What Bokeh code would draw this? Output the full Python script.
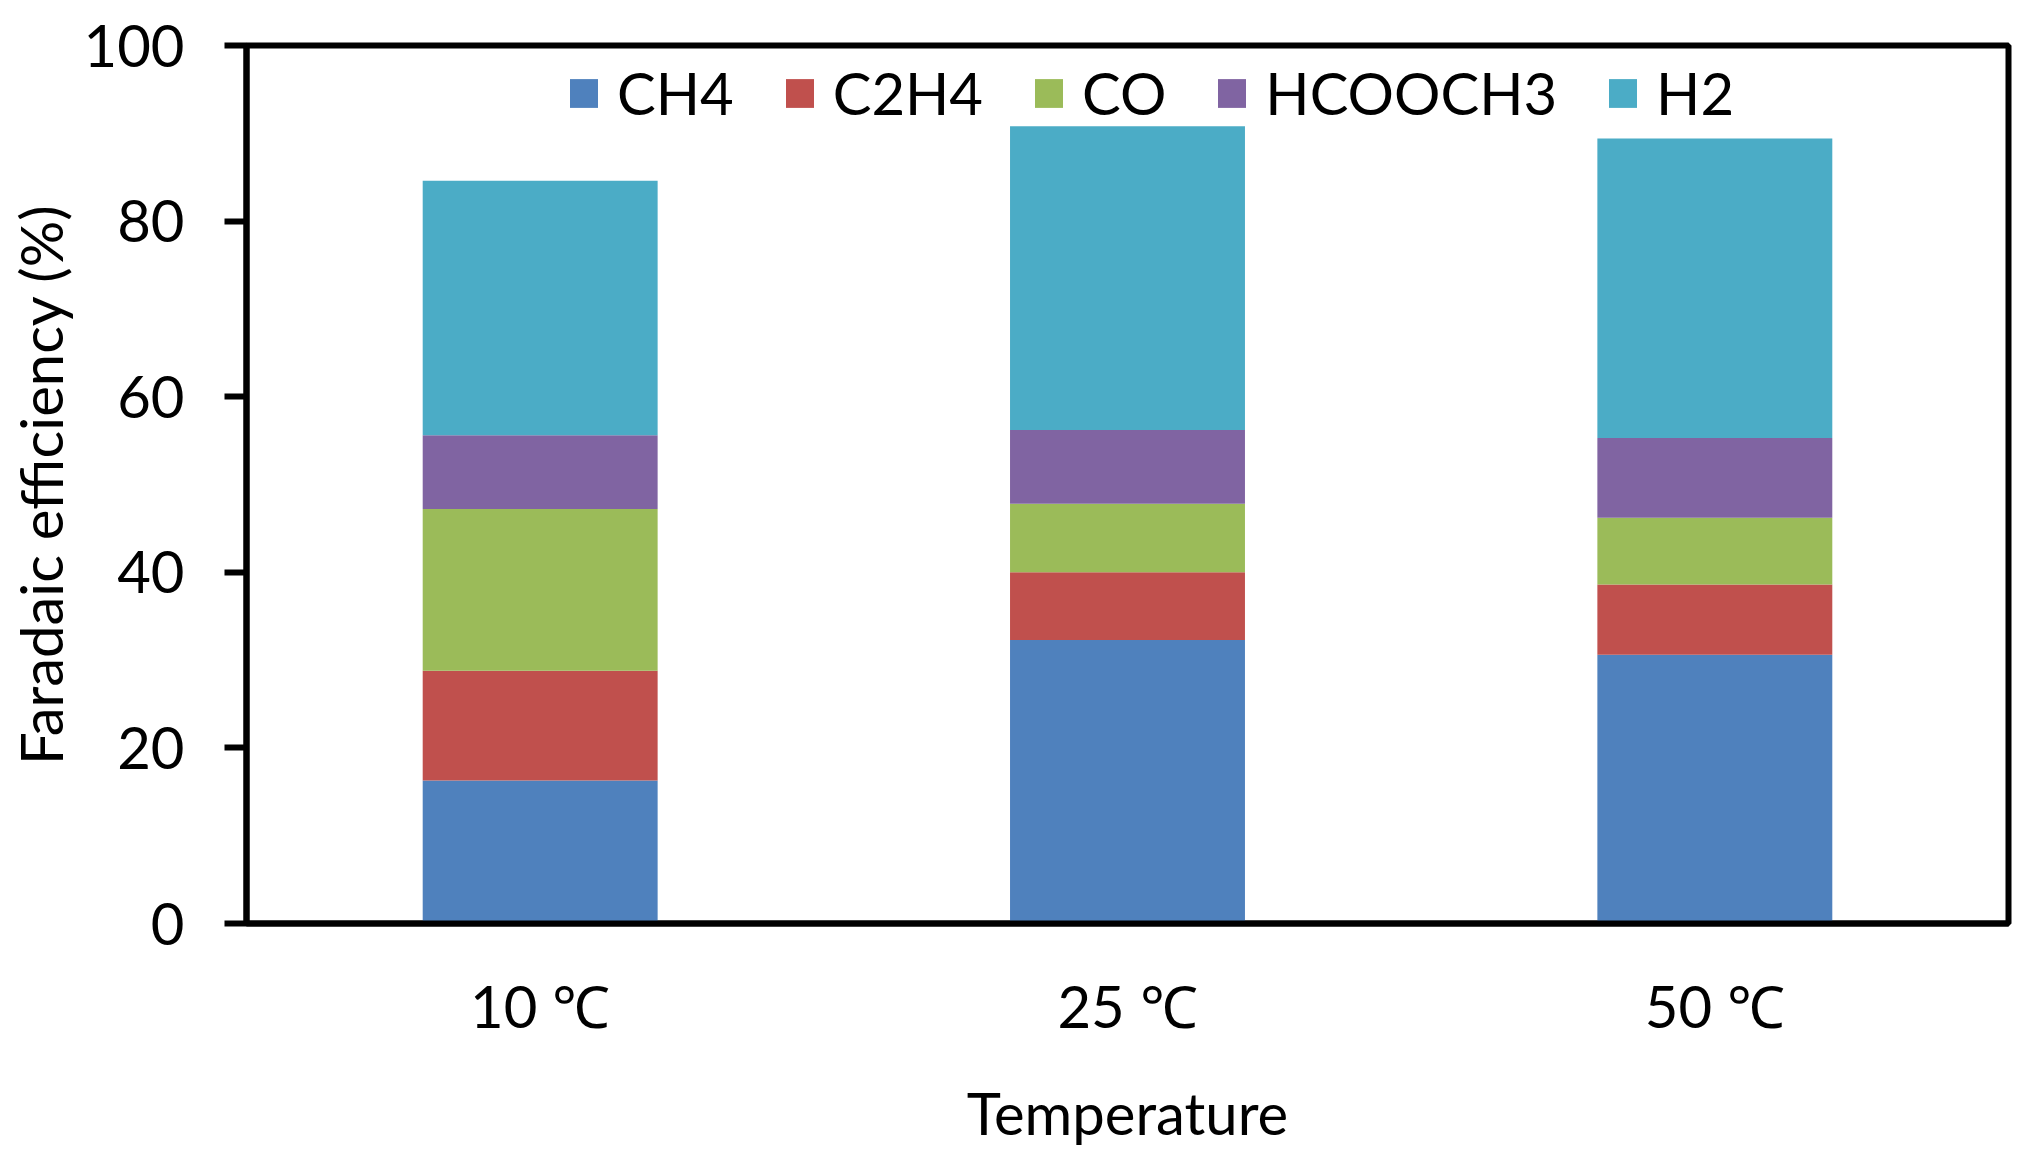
from bokeh.plotting import figure
from bokeh.models import Range1d, FixedTicker, Legend
from bokeh.embed import file_html
from bokeh.resources import INLINE

temperatures = ["10 ℃", "25 ℃", "50 ℃"]
series_names = ["CH4", "C2H4", "CO", "HCOOCH3", "H2"]
ch4 = [16.3, 32.3, 30.6]
c2h4 = [12.5, 7.7, 8.0]
co = [18.4, 7.8, 7.6]
hcooch3 = [8.4, 8.4, 9.1]
h2 = [29.0, 34.6, 34.1]
colors = ["#4F81BD", "#C0504D", "#9BBB59", "#8064A2", "#4BACC6"]
y_ticks = [0, 20, 40, 60, 80, 100]

FONT = "Lato"
FS = "58px"

data = {"temp": temperatures, "CH4": ch4, "C2H4": c2h4, "CO": co,
        "HCOOCH3": hcooch3, "H2": h2}

p = figure(x_range=temperatures, y_range=Range1d(0, 100),
           width=2016, height=1136, frame_width=1762, frame_height=878,
           output_backend="svg", toolbar_location=None,
           min_border_left=246, min_border_right=8,
           min_border_top=45, min_border_bottom=213)
p.x_range.range_padding = 0

renderers = p.vbar_stack(series_names, x="temp", width=0.4, source=data,
                         color=colors, line_width=0)

legend = Legend(items=[(name, [r]) for name, r in zip(series_names, renderers)],
                orientation="horizontal", location=(320, 796),
                glyph_width=35, glyph_height=36, label_standoff=16,
                spacing=48, padding=0, margin=0,
                border_line_alpha=0, background_fill_alpha=0,
                label_text_font=FONT, label_text_font_size=FS,
                label_text_color="black")
p.add_layout(legend, "center")

p.xgrid.visible = False
p.ygrid.visible = False
p.outline_line_color = "black"
p.outline_line_width = 6
p.outline_line_alpha = 1

p.yaxis.ticker = FixedTicker(ticks=y_ticks)
p.yaxis.axis_label = "Faradaic efficiency (%)"
p.xaxis.axis_label = "Temperature"
for ax in (p.xaxis[0], p.yaxis[0]):
    ax.axis_line_width = 6
    ax.axis_line_color = "black"
    ax.major_label_text_font = FONT
    ax.major_label_text_font_size = FS
    ax.major_label_text_color = "black"
    ax.axis_label_text_font = FONT
    ax.axis_label_text_font_size = FS
    ax.axis_label_text_font_style = "normal"
    ax.axis_label_text_color = "black"
    ax.minor_tick_line_color = None

p.yaxis.major_tick_out = 22
p.yaxis.major_tick_in = 0
p.yaxis.major_tick_line_width = 6
p.yaxis.major_label_standoff = 40
p.yaxis.axis_label_standoff = 6

p.xaxis.major_tick_line_color = None
p.xaxis.major_tick_out = 0
p.xaxis.major_tick_in = 0
p.xaxis.major_label_standoff = 47
p.xaxis.axis_label_standoff = 35

open("out.html", "w").write(file_html(p, INLINE))
